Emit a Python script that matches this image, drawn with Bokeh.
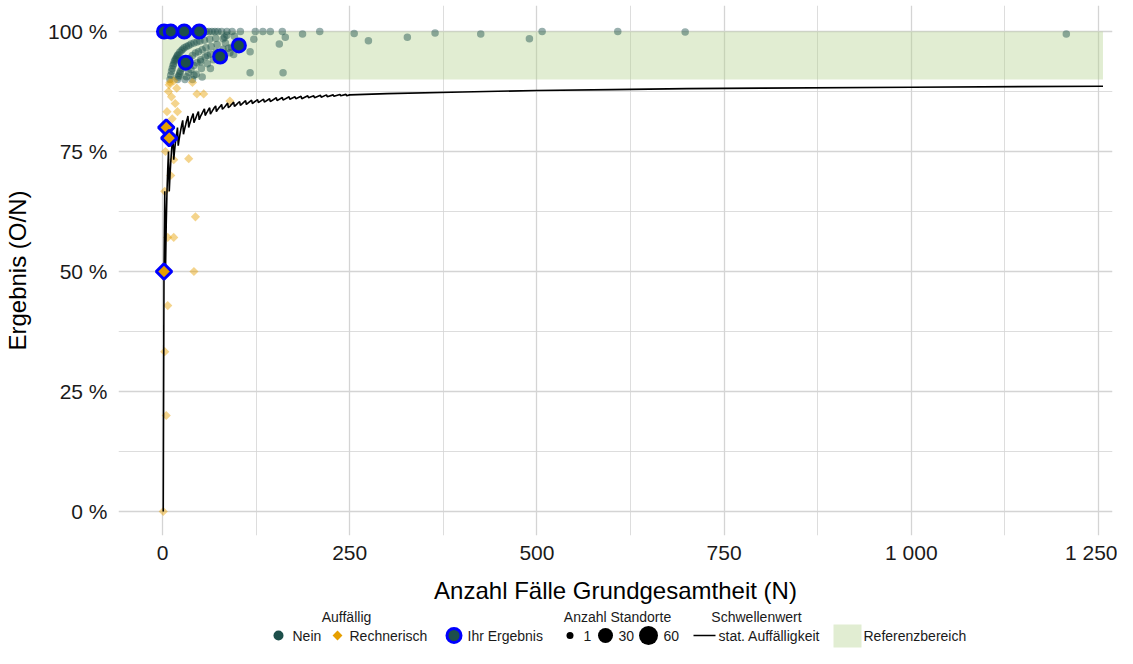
import math
from bokeh.plotting import figure
from bokeh.models import Range1d, FixedTicker
from bokeh.layouts import column
from bokeh.embed import file_html
from bokeh.resources import INLINE
from bokeh.core.properties import value

FONT = "Liberation Sans"
TEAL = "#1d4f4b"
ORANGE = "#E69F00"
BLUE = "#0000FF"
BAND = "#b5d18f"

# ---------------- data ----------------
x_ticks = [0, 250, 500, 750, 1000, 1250]
x_tick_labels = ["0", "250", "500", "750", "1 000", "1 250"]
x_minor = [125, 375, 625, 875, 1125]
y_ticks = [0, 25, 50, 75, 100]
y_tick_labels = ["0 %", "25 %", "50 %", "75 %", "100 %"]
y_minor = [12.5, 37.5, 62.5, 87.5]

ref_range = [90, 100]          # Referenzbereich (%)
ref_n = [0, 1256]              # extent in N

# threshold "stat. Auffälligkeit" (vertices of the saw-tooth line)
thr_n = [1, 2, 3, 4, 5, 6, 7, 8, 9, 10,
         11, 12, 13, 14, 15, 16, 17, 18, 19, 20,
         21, 22, 23, 24, 25, 26, 27, 28, 29, 30,
         31, 32, 33, 34, 35, 36, 37, 38, 39, 40,
         41, 42, 43, 44, 45, 46, 47, 48, 49, 50,
         51, 52, 53, 54, 55, 56, 57, 58, 59, 60,
         61, 62, 63, 64, 65, 66, 67, 68, 69, 70,
         71, 72, 73, 74, 75, 76, 77, 78, 79, 80,
         81, 82, 83, 84, 85, 86, 87, 88, 89, 90,
         91, 92, 93, 94, 95, 96, 97, 98, 99, 100,
         103, 104, 111, 112, 119, 120, 127, 128, 135, 136, 143, 144, 152, 153, 160,
         161, 169, 170, 177, 178, 185, 186, 194, 195, 202, 203, 211, 212, 219, 220,
         228, 229, 237, 238, 245, 246, 250,
         300, 400, 500, 600, 700, 800, 1000, 1256]
thr_pct = [0, 50, 66.7, 50, 60, 66.7, 71.4, 75, 66.7, 70,
           72.7, 75, 76.9, 78.6, 73.3, 75, 76.5, 77.8, 78.9, 80,
           76.2, 77.3, 78.3, 79.2, 80, 80.8, 81.5, 78.6, 79.3, 80,
           80.6, 81.3, 81.8, 82.4, 80, 80.6, 81.1, 81.6, 82.1, 82.5,
           82.9, 81.0, 81.4, 81.8, 82.2, 82.6, 83.0, 83.3, 81.6, 82.0,
           82.4, 82.7, 83.0, 83.3, 83.6, 83.9, 82.5, 82.8, 83.1, 83.3,
           83.6, 83.9, 84.1, 82.8, 83.1, 83.3, 83.6, 83.8, 84.1, 84.3,
           84.5, 83.3, 83.6, 83.8, 84.0, 84.2, 84.4, 84.6, 84.8, 83.8,
           84.0, 84.1, 84.3, 84.5, 84.7, 84.9, 85.1, 84.1, 84.3, 84.4,
           84.6, 84.8, 84.9, 85.1, 85.3, 84.4, 84.5, 84.7, 84.8, 85.0,
           85.4, 84.6, 85.6, 84.8, 85.7, 85.0, 85.8, 85.2, 85.9, 85.3, 86.0, 85.4, 86.2, 85.6, 86.25,
           85.7, 86.4, 85.9, 86.4, 86.0, 86.5, 86.0, 86.6, 86.2, 86.6, 86.2, 86.7, 86.3, 86.8, 86.4,
           86.8, 86.5, 86.9, 86.6, 86.9, 86.6, 86.8,
           87.05, 87.4, 87.7, 87.9, 88.1, 88.2, 88.4, 88.6]

# Auffällig = Nein (all sites)
nein_n = [1, 2, 3, 4, 5, 6, 7, 8, 9, 10, 12, 13, 14, 15, 16, 18, 19, 21, 22, 24,
          26, 28, 30, 32, 34, 36, 38, 41, 43, 46, 49, 52, 55, 58, 62, 66, 70, 74, 79, 86,
          93, 104, 124, 134, 144, 160, 210, 507, 608,
          187, 256, 364, 425, 698, 1207, 164, 122, 156, 117, 117, 161, 275, 327, 490,
          10, 11, 12, 13, 14, 15, 16, 17, 18, 19, 20, 21, 23, 25, 27, 29, 32, 35, 38, 42,
          46, 50, 56, 63, 71, 83, 96,
          20, 21, 22, 23, 24, 26, 28, 30, 33, 36, 40, 44, 48, 53, 58, 65, 73, 84,
          30, 32, 35, 38, 42, 46, 51, 57, 64, 72, 81, 92,
          40, 45, 52, 60, 68, 78, 90,
          64, 51, 60, 42, 53, 81, 86, 88, 95]
nein_pct = [100, 100, 100, 100, 100, 100, 100, 100, 100, 100, 100, 100, 100, 100, 100, 100, 100, 100, 100, 100,
            100, 100, 100, 100, 100, 100, 100, 100, 100, 100, 100, 100, 100, 100, 100, 100, 100, 100, 100, 100,
            100, 100, 100, 100, 100, 100, 100, 100, 100,
            99.5, 99.6, 99.7, 99.5, 99.9, 99.5, 98.8, 98.4, 97.4, 95.8, 91.4, 91.4, 98.1, 98.8, 98.5,
            90, 90.9, 91.7, 92.3, 92.9, 93.3, 93.8, 94.1, 94.4, 94.7, 95, 95.2, 95.7, 96, 96.3, 96.6, 96.9, 97.1, 97.4, 97.6,
            97.8, 98, 98.2, 98.4, 98.6, 98.8, 99.0,
            90, 90.5, 90.9, 91.3, 91.7, 92.3, 92.9, 93.3, 93.9, 94.4, 95, 95.5, 95.8, 96.2, 96.6, 96.9, 97.3, 97.6,
            90, 90.6, 91.4, 92.1, 92.9, 93.5, 94.1, 94.7, 95.3, 95.8, 96.3, 96.7,
            90, 91.1, 92.3, 93.3, 94.1, 94.9, 95.6,
            92.3, 93.7, 95, 90.9, 90.5, 98.5, 99.2, 96.5, 95.2]

# Auffällig = Rechnerisch
rech_n = [1, 5, 3, 7, 7, 15, 42, 44, 3, 11, 4, 15, 35, 6, 13, 20, 12, 9, 15, 10,
          19, 40, 46, 55, 90, 17, 8]
rech_pct = [0, 20, 33.3, 42.9, 57.1, 57.1, 50, 61.4, 66.7, 70, 75, 73.3, 73.5, 83.3, 81.8, 83.3, 86.4, 88.9, 89.7, 89.4,
            88.2, 89.4, 87, 87, 85.5, 85, 87.5]

# Ihr Ergebnis
own_nein_n = [2, 11, 29, 49, 31, 77, 102]
own_nein_pct = [100, 100, 100, 100, 93.5, 94.8, 97.1]
own_rech_n = [5, 9, 2]
own_rech_pct = [80, 77.8, 50]

# ---------------- main figure ----------------
W = 1117
p = figure(width=W, height=607, x_range=Range1d(-58.76, 1268.7), y_range=Range1d(-5.0, 105.42),
           output_backend="svg", toolbar_location=None,
           min_border_left=118, min_border_right=5, min_border_top=5, min_border_bottom=72)
p.outline_line_color = None
p.background_fill_color = "white"
p.border_fill_color = "white"

p.xaxis.ticker = FixedTicker(ticks=x_ticks, minor_ticks=x_minor)
p.yaxis.ticker = FixedTicker(ticks=y_ticks, minor_ticks=y_minor)
p.xaxis.major_label_overrides = {t: l for t, l in zip(x_ticks, x_tick_labels)}
p.yaxis.major_label_overrides = {t: l for t, l in zip(y_ticks, y_tick_labels)}
p.xaxis.axis_label = "Anzahl Fälle Grundgesamtheit (N)"
p.yaxis.axis_label = "Ergebnis (O/N)"
for ax in (p.xaxis, p.yaxis):
    ax.axis_line_color = None
    ax.major_tick_line_color = None
    ax.minor_tick_line_color = None
    ax.major_tick_out = 0
    ax.major_tick_in = 0
    ax.minor_tick_out = 0
    ax.minor_tick_in = 0
    ax.major_label_text_font = FONT
    ax.major_label_text_font_size = "21px"
    ax.major_label_text_color = "#1a1a1a"
    ax.axis_label_text_font = FONT
    ax.axis_label_text_font_size = "24px"
    ax.axis_label_text_font_style = "normal"
    ax.axis_label_text_color = "#000000"
p.xaxis.major_label_standoff = 5
p.xaxis.axis_label_standoff = 10
p.yaxis.major_label_standoff = 11
p.yaxis.axis_label_standoff = 14

for g in (p.xgrid, p.ygrid):
    g.grid_line_color = "#d4d4d4"
    g.grid_line_width = 1.3
    g.minor_grid_line_color = "#d4d4d4"
    g.minor_grid_line_width = 0.8

p.quad(left=[ref_n[0]], right=[ref_n[1]], bottom=[ref_range[0]], top=[ref_range[1]],
       fill_color=BAND, fill_alpha=0.4, line_color=None)

p.scatter(nein_n, nein_pct, marker="circle", size=7.5, fill_color=TEAL, fill_alpha=0.45, line_color=None)
p.scatter(rech_n, rech_pct, marker="square", angle=math.pi / 4, size=6.5,
          fill_color=ORANGE, fill_alpha=0.45, line_color=None)
p.line(thr_n, thr_pct, line_color="black", line_width=1.6)
p.scatter(own_nein_n, own_nein_pct, marker="circle", size=13, fill_color=TEAL, fill_alpha=1,
          line_color=BLUE, line_width=3)
p.scatter(own_rech_n, own_rech_pct, marker="square", angle=math.pi / 4, size=11,
          fill_color=ORANGE, fill_alpha=1, line_color=BLUE, line_width=3)

# ---------------- legend strip ----------------
# the column layout aligns this strip's frame with the main frame (x 118..1112 px),
# so its x range is expressed in page pixels of that span
lf = figure(width=W, height=41, x_range=Range1d(118, 1112), y_range=Range1d(648, 607),
            output_backend="svg", toolbar_location=None, min_border=0)
lf.axis.visible = False
lf.grid.visible = False
lf.outline_line_color = None
lf.border_fill_color = "white"
lf.background_fill_color = "white"

TY, EY = 616, 635
lf.text(x=[346, 617, 756], y=[TY, TY, TY], text=["Auffällig", "Anzahl Standorte", "Schwellenwert"],
        text_font=value(FONT), text_font_size="14px", text_align="center", text_baseline="middle",
        text_color="#1a1a1a")
lf.text(x=[292, 349, 467, 583, 618, 663, 718, 863], y=[EY] * 8,
        text=["Nein", "Rechnerisch", "Ihr Ergebnis", "1", "30", "60", "stat. Auffälligkeit", "Referenzbereich"],
        text_font=value(FONT), text_font_size="14px", text_align="left", text_baseline="middle",
        text_color="#1a1a1a")
lf.scatter([278], [EY], marker="circle", size=10, fill_color=TEAL, line_color=None)
lf.scatter([337], [EY], marker="square", angle=math.pi / 4, size=7, fill_color=ORANGE, line_color=None)
lf.scatter([453.5], [EY], marker="circle", size=14, fill_color=TEAL, line_color=BLUE, line_width=3)
lf.scatter([569.5, 605, 648], [EY] * 3, marker="circle", size=[7, 15, 19], fill_color="black", line_color=None)
lf.line([693, 715], [EY, EY], line_color="black", line_width=1.6)
lf.quad(left=[833], right=[861], bottom=[647], top=[624], fill_color=BAND, fill_alpha=0.4, line_color=None)

layout = column(p, lf, spacing=0)
open("out.html", "w").write(file_html(layout, INLINE))
